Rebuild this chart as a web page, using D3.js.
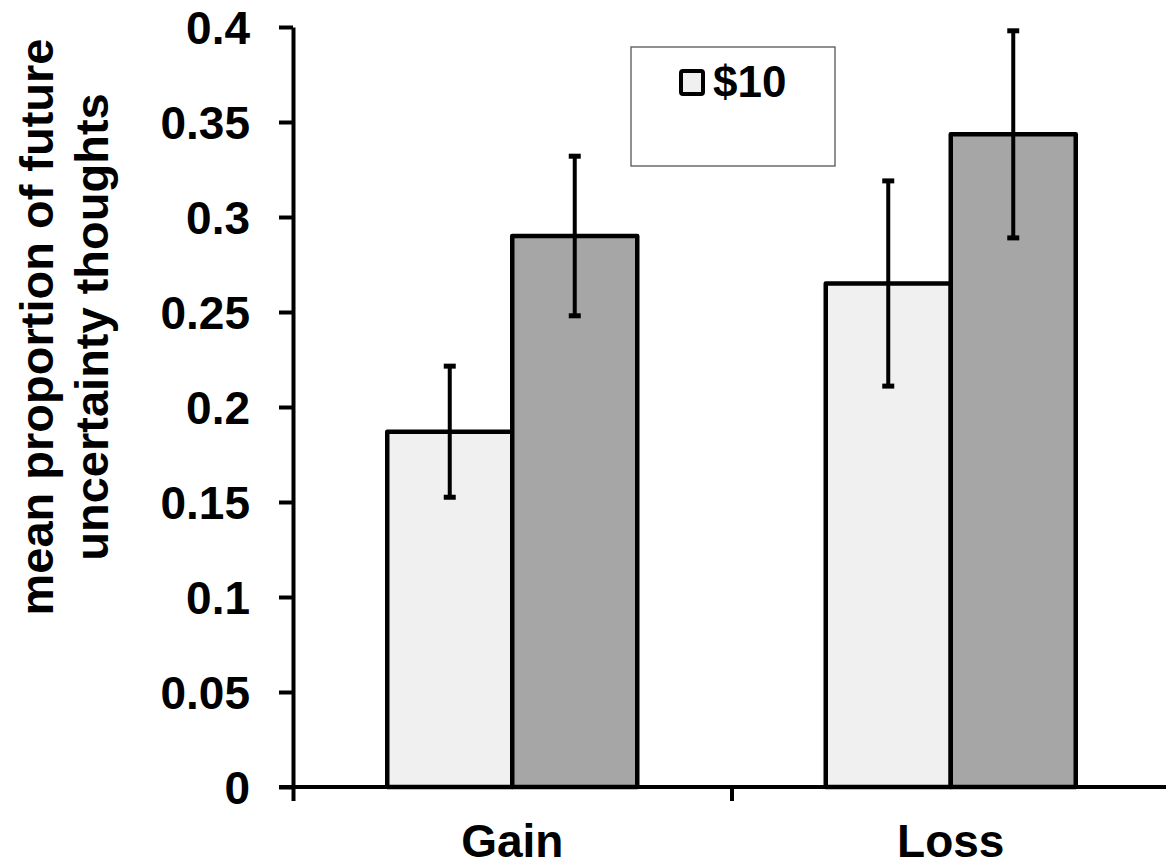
<!DOCTYPE html>
<html>
<head>
<meta charset="utf-8">
<script src="https://cdn.jsdelivr.net/npm/d3@7"></script>
<style>
  html, body { margin: 0; padding: 0; background: #fff; }
  svg { display: block; font-family: "Liberation Sans", Arial, sans-serif; font-weight: bold; }
</style>
</head>
<body>
<svg id="chart" width="1166" height="867"></svg>
<script>
// ---- data ----
const categories = ["Gain", "Loss"];
const seriesNames = ["$10", "second"];
const seriesLight = [0.187, 0.265];   // "$10" series (light bars)
const seriesDark  = [0.290, 0.3435];  // second series (dark bars)
const errLight    = [0.0345, 0.054];
const errDark     = [0.042, 0.0545];
const yTickValues = [0, 0.05, 0.1, 0.15, 0.2, 0.25, 0.3, 0.35, 0.4];
const yTickLabels = ["0", "0.05", "0.1", "0.15", "0.2", "0.25", "0.3", "0.35", "0.4"];
const legendLabels = ["$10"];
const yLabelLines = ["mean proportion of future", "uncertainty thoughts"];

// ---- layout ----
const svg = d3.select("#chart");
const plotLeft = 293, plotRight = 1170, plotTop = 27, plotBottom = 787;
const fills = ["#f0f0f0", "#a6a6a6"];
const fontSize = 46;

const y = d3.scaleLinear().domain([0, 0.4]).range([plotBottom, plotTop]);
const x0 = d3.scaleBand().domain(categories).range([plotLeft, plotRight]).padding(0);
const x1 = d3.scaleBand().domain(seriesNames).range([0, x0.bandwidth()])
  .paddingInner(0).paddingOuter(0.754);
const xb = d3.scaleLinear().domain([0, categories.length]).range([plotLeft, plotRight]);

const rows = categories.map((c, i) => ({
  cat: c,
  vals: [
    { s: seriesNames[0], v: seriesLight[i], e: errLight[i], f: fills[0] },
    { s: seriesNames[1], v: seriesDark[i],  e: errDark[i],  f: fills[1] }
  ]
}));

// bars
const g = svg.append("g");
const grp = g.selectAll("g.cat").data(rows).join("g")
  .attr("class", "cat")
  .attr("transform", d => `translate(${x0(d.cat)},0)`);
grp.selectAll("rect").data(d => d.vals).join("rect")
  .attr("x", d => x1(d.s))
  .attr("y", d => y(d.v))
  .attr("width", x1.bandwidth())
  .attr("height", d => y(0) - y(d.v))
  .attr("fill", d => d.f)
  .attr("stroke", "#000")
  .attr("stroke-width", 4.5)
  .attr("stroke-linejoin", "round");

// error bars
const eb = grp.selectAll("g.err").data(d => d.vals).join("g")
  .attr("class", "err")
  .attr("transform", d => `translate(${x1(d.s) + x1.bandwidth() / 2},0)`);
eb.append("line")
  .attr("x1", 0).attr("x2", 0)
  .attr("y1", d => y(d.v + d.e)).attr("y2", d => y(d.v - d.e))
  .attr("stroke", "#000").attr("stroke-width", 4);
eb.selectAll("line.cap").data(d => [d.v + d.e, d.v - d.e]).join("line")
  .attr("class", "cap")
  .attr("x1", -6).attr("x2", 6)
  .attr("y1", d => y(d)).attr("y2", d => y(d))
  .attr("stroke", "#000").attr("stroke-width", 5);

// y axis
const yAxis = d3.axisLeft(y)
  .tickValues(yTickValues)
  .tickFormat((d, i) => yTickLabels[i])
  .tickSize(14).tickSizeOuter(0).tickPadding(29);
const ya = svg.append("g").attr("transform", `translate(${plotLeft},0)`).call(yAxis);
ya.select(".domain").attr("stroke", "#000").attr("stroke-width", 4);
ya.selectAll(".tick line").attr("stroke", "#000").attr("stroke-width", 4);
ya.selectAll(".tick text")
  .attr("font-size", fontSize).attr("font-weight", "bold")
  .attr("font-family", "Liberation Sans, Arial, sans-serif")
  .attr("fill", "#000").attr("dy", "0.36em");

// x axis (ticks at category boundaries)
const xAxis = d3.axisBottom(xb)
  .tickValues(d3.range(categories.length + 1))
  .tickFormat("")
  .tickSize(14).tickSizeOuter(0);
const xa = svg.append("g").attr("transform", `translate(0,${plotBottom})`).call(xAxis);
xa.select(".domain").remove();
xa.selectAll(".tick line").attr("stroke", "#000").attr("stroke-width", 4);
xa.append("line")
  .attr("x1", plotLeft - 14).attr("x2", plotRight + 10)
  .attr("y1", 0).attr("y2", 0)
  .attr("stroke", "#000").attr("stroke-width", 4);

// category labels
svg.append("g").selectAll("text").data(categories).join("text")
  .attr("x", d => x0(d) + x0.bandwidth() / 2)
  .attr("y", 857)
  .attr("text-anchor", "middle")
  .attr("font-size", fontSize)
  .attr("fill", "#000")
  .text(d => d);

// y axis title
svg.append("g").selectAll("text").data(yLabelLines).join("text")
  .attr("transform", (d, i) => `translate(${53 + i * 55},327) rotate(-90)`)
  .attr("text-anchor", "middle")
  .attr("font-size", 47)
  .attr("fill", "#000")
  .text(d => d);

// legend
const lg = svg.append("g");
lg.append("rect")
  .attr("x", 631).attr("y", 47).attr("width", 204).attr("height", 119)
  .attr("fill", "#fff").attr("stroke", "#555").attr("stroke-width", 1.3);
const li = lg.selectAll("g.item").data(legendLabels).join("g").attr("class", "item");
li.append("rect")
  .attr("x", 681).attr("y", 71).attr("width", 22).attr("height", 23)
  .attr("rx", 2)
  .attr("fill", fills[0]).attr("stroke", "#000").attr("stroke-width", 4);
li.append("text")
  .attr("x", 713).attr("y", 97)
  .attr("font-size", 44)
  .attr("fill", "#000")
  .text(d => d);
</script>
</body>
</html>
